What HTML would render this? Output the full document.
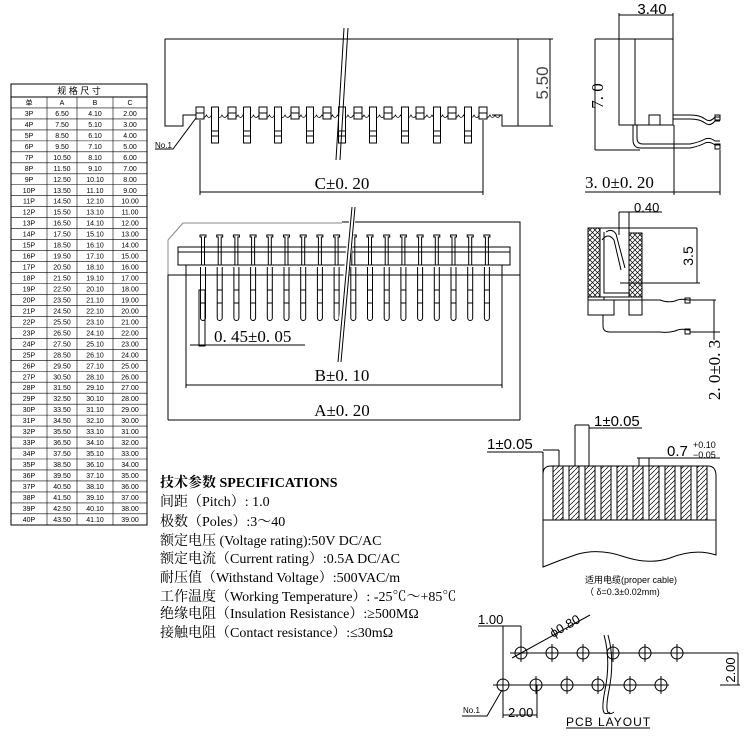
<!DOCTYPE html>
<html><head><meta charset="utf-8"><style>
html,body{margin:0;padding:0;background:#fff;}
svg{display:block;}
text{font-family:"Liberation Serif","Noto Serif CJK SC",serif;fill:#000;}
.s{font-family:"Liberation Sans","Noto Sans CJK SC",sans-serif;}
</style></head><body>
<svg id="g" width="750" height="750" viewBox="0 0 750 750" xmlns="http://www.w3.org/2000/svg" fill="none" stroke="#000" stroke-width="1">
<defs>
<pattern id="hx" width="5" height="5" patternUnits="userSpaceOnUse"><path d="M0 0L5 5M5 0L0 5" stroke="#000" stroke-width="0.7"/></pattern>
<pattern id="hd" width="5" height="5" patternUnits="userSpaceOnUse"><path d="M0 5L5 0" stroke="#000" stroke-width="0.7"/></pattern>
</defs>
<!-- table -->
<rect x="11" y="84" width="136" height="441"/>
<line x1="11" y1="97" x2="147" y2="97"/>
<text x="79" y="94" font-size="9" text-anchor="middle" stroke="none" class="s">规 格 尺 寸</text>
<g id="tbl"></g>

<!-- top view -->
<path d="M165 39H518V126H502V115H492"/>
<path d="M165 39V126H183V115H196"/>
<g id="topteeth"></g>
<line x1="518" y1="39" x2="553" y2="39"/><line x1="518" y1="126" x2="553" y2="126"/>
<line x1="550" y1="39" x2="550" y2="126"/>
<text x="0" y="0" font-size="17" stroke="none" class="s" transform="translate(548,83) rotate(-90)" text-anchor="middle" style="fill:#444">5.50</text>
<line x1="200" y1="120" x2="200" y2="195"/><line x1="483" y1="120" x2="483" y2="195"/>
<line x1="200" y1="192" x2="483" y2="192"/>
<text x="342" y="189" font-size="17" text-anchor="middle" stroke="none">C±0. 20</text>
<path d="M344 28L336 160M348 28L340 160"/>
<text x="155" y="148" font-size="8" stroke="none" class="s">No.1</text>
<path d="M155 149H173L196 118"/>

<!-- bottom view -->
<path d="M183 223H342M168 240L183 223M168 240V275H342" stroke="#888"/>
<path d="M342 222H520V275H168V420M520 275V420M168 420H520"/>
<rect x="178" y="247" width="332" height="18"/>
<line x1="178" y1="252" x2="510" y2="252"/>
<g id="botpins"></g>
<path d="M352 207L336 362M355 207L339 362" stroke="#fff" stroke-width="3"/>
<path d="M352 207L338 362M355 207L341 362"/>
<line x1="186" y1="265" x2="186" y2="388"/><line x1="502" y1="265" x2="502" y2="388"/>
<line x1="186" y1="385" x2="502" y2="385"/>
<text x="342" y="381" font-size="17" text-anchor="middle" stroke="none">B±0. 10</text>
<text x="342" y="416" font-size="17" text-anchor="middle" stroke="none">A±0. 20</text>
<rect x="199" y="290" width="6" height="56"/>
<path d="M190 345H305"/>
<text x="214" y="342" font-size="17" stroke="none">0. 45±0. 05</text>

<!-- side view -->
<text x="652" y="14" font-size="15" text-anchor="middle" stroke="none" class="s">3.40</text>
<path d="M619 15H673M619 13V39M673 13V39"/>
<rect x="619" y="39" width="54" height="86"/>
<line x1="635" y1="39" x2="635" y2="125"/>
<path d="M649 125V115H660V125"/>
<path d="M673 115H690Q700 115 705 119Q710 123 715 117H720M673 119H690Q700 119 705 123Q710 127 715 121H720"/>
<rect x="715" y="115" width="5" height="5"/>
<path d="M633 125V140Q633 148 641 148H690Q700 146 705 143Q710 141 715 145H720M637 125V138Q637 144 643 144H690Q700 142 705 139Q710 137 715 141H720"/>
<rect x="715" y="144" width="5" height="5"/>
<path d="M595 39H619M595 150H640M595 39V150"/>
<text x="0" y="0" font-size="17" stroke="none" transform="translate(603,96) rotate(-90)" text-anchor="middle">7. 0</text>
<path d="M674 125V195M720 150V195M585 192H720"/>
<text x="585" y="188" font-size="17" stroke="none">3. 0±0. 20</text>

<!-- cross section -->
<text x="634" y="212" font-size="13" stroke="none" class="s">0.40</text>
<path d="M619 212H662M619 212V235M629 212V235"/>
<rect x="588" y="228" width="12" height="69" fill="url(#hx)"/>
<rect x="629" y="233" width="13" height="64" fill="url(#hx)"/>
<path d="M600 228H697M697 228V283M620 283H700"/>
<path d="M606 232Q612 228 616 234L625 268M602 240Q608 232 614 240L621 270"/>
<path d="M604 232V293H630"/>
<rect x="588" y="297" width="54" height="3"/>
<rect x="588" y="300" width="26" height="15"/><rect x="629" y="300" width="13" height="15"/>
<path d="M642 300H660Q668 303 675 301Q681 298 688 300H690M604 297V300"/>
<path d="M603 315V326Q603 332 610 332H660Q668 333 675 331Q681 328 688 330H690"/>
<rect x="685" y="298" width="5" height="5"/><rect x="685" y="329" width="5" height="5"/>
<text x="0" y="0" font-size="14" stroke="none" class="s" transform="translate(693,256) rotate(-90)" text-anchor="middle">3.5</text>
<path d="M690 300H716M690 332H720M714 300V340"/>
<text x="0" y="0" font-size="17" stroke="none" transform="translate(720,370) rotate(-90)" text-anchor="middle">2. 0±0. 3</text>

<!-- cable -->
<path d="M543 466V567Q560 560 578 554Q600 548 625 557Q650 565 670 558Q695 548 716 555V476Q716 466 708 466H551Q543 466 543 474M543 520H716"/>
<g id="strips"></g>
<text x="487" y="449" font-size="15" stroke="none" class="s">1±0.05</text>
<path d="M487 452H543M543 452V466M559 450V466M543 450H559"/>
<text x="594" y="426" font-size="15" stroke="none" class="s">1±0.05</text>
<path d="M575 425V466M589 425V466M575 425H589M589 428H642"/>
<text x="667" y="456" font-size="15" stroke="none" class="s">0.7</text>
<text x="693" y="448" font-size="9" stroke="none" class="s">+0.10</text>
<text x="693" y="458" font-size="9" stroke="none" class="s">−0.05</text>
<path d="M639 458V466M649 458V466M637 458H720"/>
<text x="585" y="583" font-size="9" stroke="none" class="s">适用电缆(proper  cable)</text>
<text x="585" y="595" font-size="9" stroke="none" class="s">（ δ=0.3±0.02mm)</text>

<!-- specs -->
<g stroke="none" font-size="14">
<text x="160" y="487"><tspan font-weight="bold">技术参数 SPECIFICATIONS</tspan></text>
<text x="160" y="506">间距（Pitch）: 1.0</text>
<text x="160" y="526">极数（Poles）:3～40</text>
<text x="160" y="545">额定电压 (Voltage rating):50V DC/AC</text>
<text x="160" y="563">额定电流（Current rating）:0.5A DC/AC</text>
<text x="160" y="582">耐压值（Withstand Voltage）:500VAC/m</text>
<text x="160" y="601">工作温度（Working Temperature）: -25℃～+85℃</text>
<text x="160" y="618">绝缘电阻（Insulation Resistance）:≥500MΩ</text>
<text x="160" y="637">接触电阻（Contact resistance）:≤30mΩ</text>
</g>

<!-- PCB -->
<path d="M510 653H738M493 685H669M738 653V685M720 685H740"/>
<g id="holes"></g>
<path d="M604 635Q611 660 605 690T610 712M608 635Q615 660 609 690T614 712"/>
<path d="M478 626H521M503 626V718M521 626V653M537 685V718M503 715H537"/>
<text x="478" y="624" font-size="13" stroke="none" class="s">1.00</text>
<path d="M512 658L590 615"/>
<text x="0" y="0" font-size="13" stroke="none" class="s" transform="translate(553,638) rotate(-30)">ϕ0.80</text>
<text x="508" y="717" font-size="13" stroke="none" class="s">2.00</text>
<text x="0" y="0" font-size="13" stroke="none" class="s" transform="translate(735,670) rotate(-90)" text-anchor="middle">2.00</text>
<text x="463" y="713" font-size="8" stroke="none" class="s">No.1</text>
<path d="M462 716H487L502 690"/>
<text x="566" y="726" font-size="12" stroke="none" class="s" letter-spacing="1">PCB LAYOUT</text>
<line x1="566" y1="728" x2="650" y2="728"/>
</svg>
<script>
var NS="http://www.w3.org/2000/svg";
function el(p,t,a,txt){var e=document.createElementNS(NS,t);for(var k in a)e.setAttribute(k,a[k]);if(txt!==undefined)e.textContent=txt;document.getElementById(p).appendChild(e);return e;}
var cols=[12,47,77,113,147];
for(var i=1;i<4;i++)el("tbl","line",{x1:cols[i],y1:97,x2:cols[i],y2:525,"stroke-width":0.6});
var y0=97,rh=10.97;
var hdr=["单","A","B","C"],cx=[29,62,95,130];
for(var c=0;c<4;c++)el("tbl","text",{x:cx[c],y:y0+8,"font-size":7,"text-anchor":"middle",stroke:"none","class":"s"},hdr[c]);
for(var r=0;r<38;r++){var yy=y0+rh*(r+1);el("tbl","line",{x1:11,y1:yy,x2:147,y2:yy,"stroke-width":0.6});
 var n=r+3;var v=[n+"P",(n+3.5).toFixed(2),(n+1.1).toFixed(2),(n-1).toFixed(2)];
 for(var c=0;c<4;c++)el("tbl","text",{x:cx[c],y:yy+8,"font-size":7,"text-anchor":"middle",stroke:"none","class":"s"},v[c]);}
var sx=[200,232,263,295,327,358,388,420,452,483];
var d="M196 115";for(var x=196;x<492;x+=10.5){d+=" q2.5 5 5 0 q2.5 5 5.5 0";}
el("topteeth","path",{d:d,"stroke-width":0.8});
sx.forEach(function(x){el("topteeth","rect",{x:x-4,y:107,width:8,height:12,fill:"#fff"});el("topteeth","line",{x1:x-4,y1:113,x2:x+4,y2:113});});
[215,247,278,310,342,373,405,437,468].forEach(function(x){el("topteeth","rect",{x:x-3.5,y:107,width:7,height:36,fill:"#fff"});el("topteeth","line",{x1:x-3.5,y1:136,x2:x+3.5,y2:136});el("topteeth","line",{x1:x-3.5,y1:131,x2:x+3.5,y2:131});});
for(var i=0;i<18;i++){var x=203+i*16.7;
 el("botpins","path",{d:"M"+(x-3)+" 235h6v2h-1.5v28h-3v-28h-1.5z"});
 el("botpins","line",{x1:x-3,y1:247,x2:x+3,y2:247});
 el("botpins","path",{d:"M"+(x-2.5)+" 267V318a2.5 2.5 0 0 0 5 0V267"});
 el("botpins","path",{d:"M"+(x-2.5)+" 290h5M"+(x-2.5)+" 303h5"});}
for(var i=0;i<10;i++){var x=553+i*16;el("strips","rect",{x:x,y:466,width:10,height:54,fill:"url(#hd)"});}
[521,552,583,613,645,677].forEach(function(x){el("holes","circle",{cx:x,cy:653,r:6,fill:"#fff"});el("holes","line",{x1:x,y1:644,x2:x,y2:662});});
[503,536,567,598,630,661].forEach(function(x){el("holes","circle",{cx:x,cy:685,r:6,fill:"#fff"});el("holes","line",{x1:x,y1:676,x2:x,y2:694});});
el("holes","line",{x1:510,y1:653,x2:738,y2:653});el("holes","line",{x1:493,y1:685,x2:669,y2:685});
</script>
</body></html>
